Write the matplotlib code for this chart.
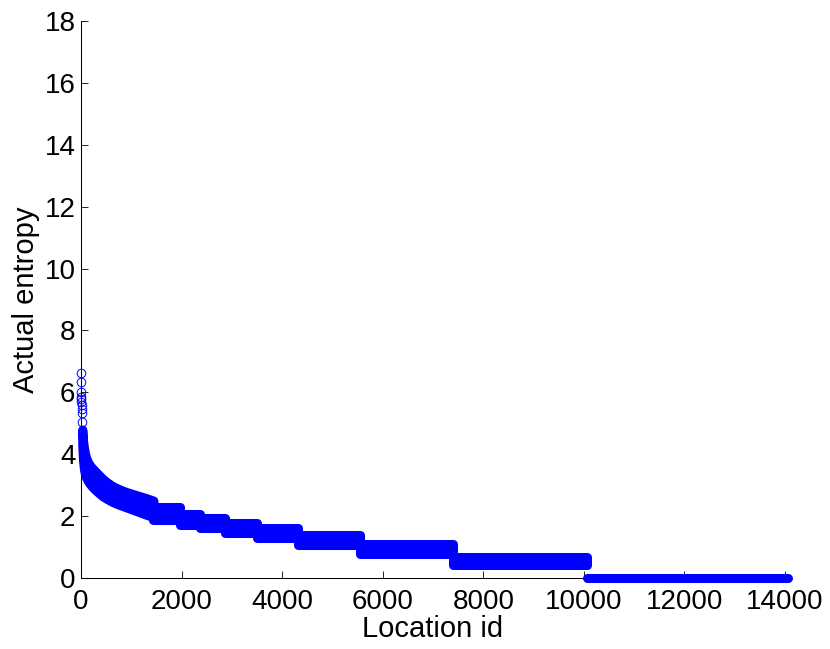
import matplotlib.pyplot as plt
import numpy as np

plt.rcParams['font.family'] = ['Liberation Sans', 'DejaVu Sans']

# sparse circles at the very first location ids
first_ids = [0, 1, 3, 5, 7, 9, 11, 14, 17, 20]
first_vals = [6.62, 6.33, 6.01, 5.86, 5.78, 5.70, 5.59, 5.45, 5.32, 5.05]

# smooth head of the curve: upper and lower edge of the dense band
head_ids = [25, 40, 60, 80, 100, 130, 170, 220, 280, 350, 430, 520, 620,
            720, 820, 920, 1020, 1120, 1220, 1320, 1440]
head_top = [4.80, 4.45, 4.20, 4.02, 3.90, 3.77, 3.66, 3.56, 3.46, 3.34, 3.21,
            3.09, 2.98, 2.90, 2.83, 2.77, 2.72, 2.67, 2.62, 2.57, 2.50]
head_low = [4.30, 3.80, 3.50, 3.35, 3.25, 3.15, 3.05, 2.95, 2.85, 2.75, 2.64,
            2.55, 2.46, 2.39, 2.33, 2.27, 2.21, 2.15, 2.09, 2.03, 1.97]

# plateaus: start id of each step, upper and lower edge of the band
step_ids = [1440, 1970, 2370, 2865, 3495, 4320, 5550, 7395, 10060]
step_top = [2.30, 2.08, 1.95, 1.79, 1.61, 1.39, 1.10, 0.69, 0.69]
step_low = [1.88, 1.72, 1.60, 1.47, 1.30, 1.06, 0.76, 0.41, 0.41]

# locations with zero entropy
zero_ids = [10060, 14050]
zero_vals = [0.0, 0.0]

blue = '#0000ff'

fig = plt.figure(figsize=(8.3, 6.49), dpi=100)
ax = fig.add_axes([81/830, 71/649, 704/830, 557/649])

# thick round edge stands in for the overlapping open circles
band = dict(facecolor=blue, edgecolor=blue, linewidth=6.5, joinstyle='round',
            clip_on=False, zorder=3)
ax.fill_between(head_ids, head_low, head_top, **band)
ax.fill_between(step_ids, step_low, step_top, step='post', **band)
ax.plot(zero_ids, zero_vals, '-', color=blue, lw=6.5, solid_capstyle='round',
        clip_on=False, zorder=3)
ax.plot(first_ids, first_vals, 'o', mfc='none', mec=blue, ms=6.2, mew=0.7,
        clip_on=False, zorder=3)

ax.set_xlim(0, 14000)
ax.set_ylim(0, 18)
ax.set_xticks(np.arange(0, 14001, 2000))
ax.set_yticks(np.arange(0, 19, 2))
ax.spines['top'].set_visible(False)
ax.spines['right'].set_visible(False)
for s in ['left', 'bottom']:
    ax.spines[s].set_linewidth(0.75)
ax.tick_params(direction='in', length=5, width=0.6, labelsize=20)
ax.tick_params(axis='x', pad=8)
ax.tick_params(axis='y', pad=4)
ax.set_xlabel('Location id', fontsize=21, labelpad=0)
ax.set_ylabel('Actual entropy', fontsize=21, labelpad=3)

fig.savefig('out.png', dpi=100)
